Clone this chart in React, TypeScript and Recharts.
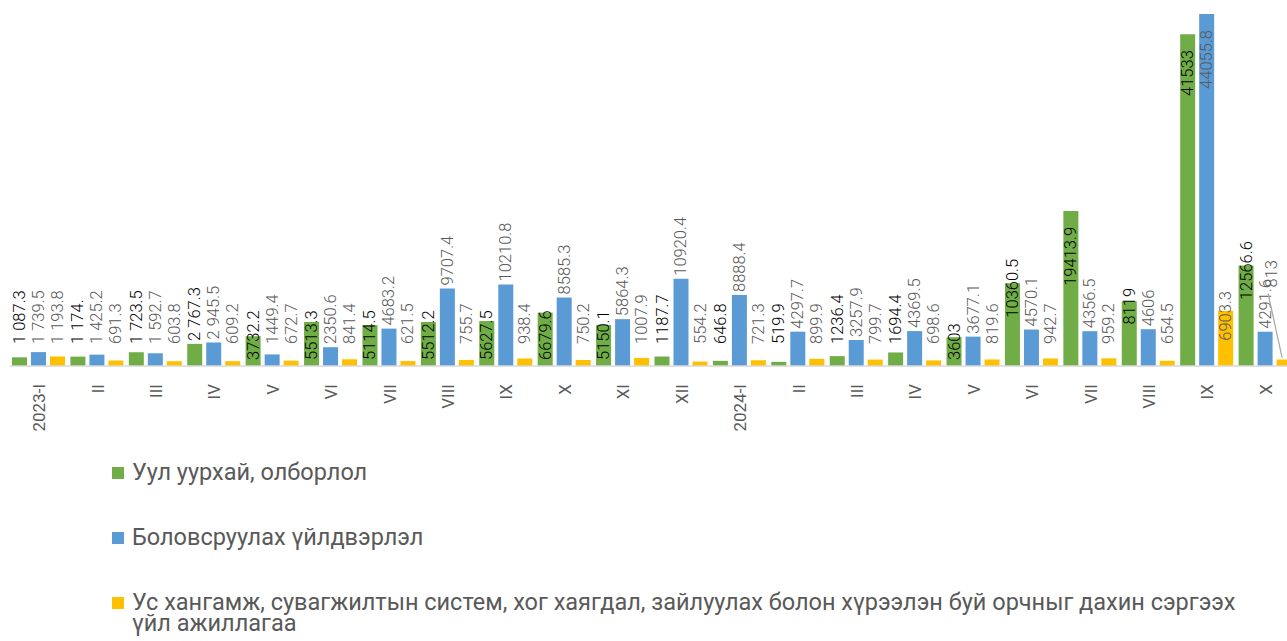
import { BarChart, Bar, XAxis, YAxis, LabelList } from "recharts";

// =============================================================================
// Monthly output by sector, 2023-I .. 2024-X
// =============================================================================

const categories = [
  "2023-I", "II", "III", "IV", "V", "VI", "VII", "VIII", "IX", "X", "XI", "XII",
  "2024-I", "II", "III", "IV", "V", "VI", "VII", "VIII", "IX", "X",
];

const miningValues = [
  1087.3, 1174.0, 1723.5, 2767.3, 3732.2, 5513.3, 5114.5, 5512.2, 5627.5, 6679.6, 5150.1, 1187.7,
  646.8, 519.9, 1236.4, 1694.4, 3603, 10360.5, 19413.9, 8119, 41533, 12566.6,
];
const miningLabels = [
  "1 087.3", "1 174.", "1 723.5", "2 767.3", "3732.2", "5513.3", "5114.5", "5512.2", "5627.5", "6679.6", "5150.1", "1187.7",
  "646.8", "519.9", "1236.4", "1694.4", "3603", "10360.5", "19413.9", "8119", "41533", "12566.6",
];

const manufacturingValues = [
  1739.5, 1425.2, 1592.7, 2945.5, 1449.4, 2350.6, 4683.2, 9707.4, 10210.8, 8585.3, 5864.3, 10920.4,
  8888.4, 4297.7, 3257.9, 4369.5, 3677.1, 4570.1, 4356.5, 4606, 44055.8, 4291.6,
];
const manufacturingLabels = [
  "1 739.5", "1 425.2", "1 592.7", "2 945.5", "1449.4", "2350.6", "4683.2", "9707.4", "10210.8", "8585.3", "5864.3", "10920.4",
  "8888.4", "4297.7", "3257.9", "4369.5", "3677.1", "4570.1", "4356.5", "4606", "44055.8", "4291.6",
];

const waterValues = [
  1193.8, 691.3, 603.8, 609.2, 672.7, 841.4, 621.5, 755.7, 938.4, 750.2, 1007.9, 554.2,
  721.3, 899.9, 799.7, 698.6, 819.6, 942.7, 959.2, 654.5, 6903.3, 813,
];
const waterLabels = [
  "1 193.8", "691.3", "603.8", "609.2", "672.7", "841.4", "621.5", "755.7", "938.4", "750.2", "1007.9", "554.2",
  "721.3", "899.9", "799.7", "698.6", "819.6", "942.7", "959.2", "654.5", "6903.3", "813",
];

const series = [
  { key: "mining", name: "Уул уурхай, олборлол", color: "#70ad47", labelColor: "#000000", midInside: "base" },
  { key: "manufacturing", name: "Боловсруулах үйлдвэрлэл", color: "#5b9bd5", labelColor: "#595959", midInside: "none" },
  {
    key: "water",
    name: "Ус хангамж, сувагжилтын систем, хог хаягдал, зайлуулах болон хүрээлэн буй орчныг дахин сэргээх үйл ажиллагаа",
    color: "#ffc000",
    labelColor: "#595959",
    midInside: "middle",
  },
];

const chartData = categories.map((category, i) => ({
  category,
  mining: miningValues[i],
  miningLabel: miningLabels[i],
  manufacturing: manufacturingValues[i],
  manufacturingLabel: manufacturingLabels[i],
  water: waterValues[i],
  waterLabel: waterLabels[i],
}));

const FONT = "Roboto, 'Noto Sans', sans-serif";
const VISIBLE_WIDTH = 1287;

// Rotated value label, placed roughly the way Excel laid them out.
function makeLabel(fill: string, mode: string) {
  return (props: any) => {
    const vb = props.viewBox || {};
    const x = props.x ?? vb.x;
    const y = props.y ?? vb.y;
    const width = props.width ?? vb.width;
    const height = props.height ?? vb.height;
    let cx = x + width / 2;
    const base = y + height;
    let ty: number;
    let anchor: "start" | "middle" | "end";
    let leader: [number, number, number, number] | null = null;
    if (height > 140) {
      ty = y + 16;
      anchor = "end";
    } else if (mode === "base" && height > 60) {
      ty = y + 5;
      anchor = "middle";
    } else if (mode === "base" && height > 25) {
      ty = base - 6;
      anchor = "start";
    } else if (mode === "middle" && height > 40) {
      ty = y + 5;
      anchor = "middle";
    } else {
      ty = Math.min(y - 3, base - 22);
      anchor = "start";
    }
    if (cx + 8 > VISIBLE_WIDTH) {
      // pulled in from the clipped right edge, with a leader line
      const bx = cx;
      cx = cx - 13;
      ty = y - 72;
      anchor = "start";
      leader = [cx - 3, ty + 6, bx - 2, y - 2];
    }
    return (
      <g>
        {leader && (
          <line x1={leader[0]} y1={leader[1]} x2={leader[2]} y2={leader[3]} stroke="#a6a6a6" strokeWidth={1.2} />
        )}
        <text
          x={cx}
          y={ty}
          transform={`rotate(-90 ${cx} ${ty})`}
          textAnchor={anchor}
          dominantBaseline="central"
          fill={fill}
          fontSize={16.5}
          fontWeight={300}
          fontFamily={FONT}
        >
          {props.value}
        </text>
      </g>
    );
  };
}

const CategoryTick = ({ x, y, payload }: any) => {
  const ty = y + 18;
  return (
    <text
      x={x}
      y={ty}
      transform={`rotate(-90 ${x} ${ty})`}
      textAnchor="end"
      dominantBaseline="central"
      fill="#595959"
      fontSize={17}
      fontFamily={FONT}
    >
      {payload.value}
    </text>
  );
};

export default function App() {
  return (
    <div
      style={{
        position: "absolute",
        top: 0,
        left: 0,
        width: VISIBLE_WIDTH,
        height: 641,
        overflow: "hidden",
        background: "#ffffff",
        fontFamily: FONT,
      }}
    >
      <BarChart
        width={1300}
        height={450}
        data={chartData}
        margin={{ top: 6.5, right: 5, left: 10, bottom: 0 }}
        barCategoryGap={2}
        barGap={4}
      >
        <XAxis
          dataKey="category"
          height={84}
          tickSize={0}
          tickMargin={0}
          tickLine={false}
          interval={0}
          axisLine={{ stroke: "#d9d9d9", strokeWidth: 1.5 }}
          tick={<CategoryTick />}
        />
        <YAxis hide domain={[0, 45000]} />
        {series.map((s) => (
          <Bar key={s.key} dataKey={s.key} name={s.name} fill={s.color} isAnimationActive={false}>
            <LabelList dataKey={`${s.key}Label`} content={makeLabel(s.labelColor, s.midInside)} />
          </Bar>
        ))}
      </BarChart>

      <div style={{ position: "absolute", left: 112, top: 461.5, color: "#595959", fontSize: 23.5, lineHeight: "21px" }}>
        {series.map((s) => (
          <div key={s.key} style={{ display: "flex", alignItems: "flex-start", marginBottom: 44 }}>
            <span style={{ width: 12, height: 12, background: s.color, marginTop: 5.5, marginRight: 8, flex: "none" }} />
            <span style={{ width: 1132 }}>{s.name}</span>
          </div>
        ))}
      </div>
    </div>
  );
}
